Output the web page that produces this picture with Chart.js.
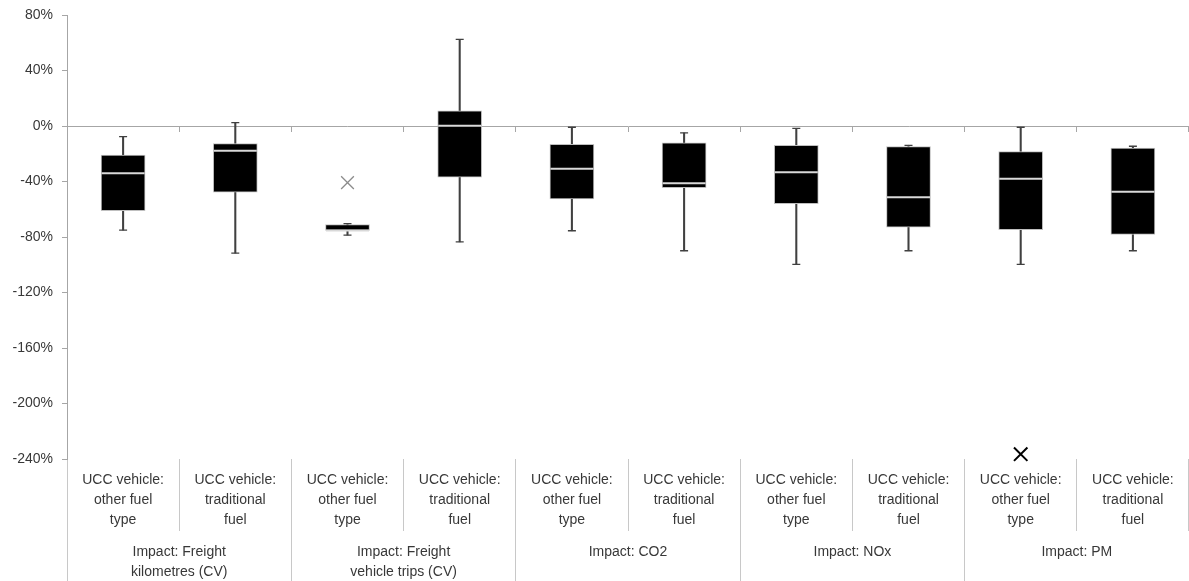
<!DOCTYPE html>
<html>
<head>
<meta charset="utf-8">
<script src="https://cdn.jsdelivr.net/npm/chart.js@4/dist/chart.umd.min.js"></script>
<style>
  html, body { margin: 0; padding: 0; background: #ffffff; }
  #wrap { width: 1189px; height: 581px; position: relative; }
</style>
</head>
<body>
<div id="wrap"><canvas id="c"></canvas></div>
<script>
// ---- data (values in %) ----
const categories = [
  ['UCC vehicle:', 'other fuel', 'type'], ['UCC vehicle:', 'traditional', 'fuel'],
  ['UCC vehicle:', 'other fuel', 'type'], ['UCC vehicle:', 'traditional', 'fuel'],
  ['UCC vehicle:', 'other fuel', 'type'], ['UCC vehicle:', 'traditional', 'fuel'],
  ['UCC vehicle:', 'other fuel', 'type'], ['UCC vehicle:', 'traditional', 'fuel'],
  ['UCC vehicle:', 'other fuel', 'type'], ['UCC vehicle:', 'traditional', 'fuel']
];
const groups = [
  ['Impact: Freight', 'kilometres (CV)'],
  ['Impact: Freight', 'vehicle trips (CV)'],
  'Impact: CO2',
  'Impact: NOx',
  'Impact: PM'
];
const whiskerMax = [-7.7, 2.4, -70.3, 62.4, -0.9, -5.0, -1.7, -13.9, -0.9, -14.6];
const q3         = [-21.0, -12.7, -71.0, 11.0, -13.2, -12.2, -13.9, -14.9, -18.5, -16.0];
const median     = [-34.0, -17.8, -75.3, 0.2, -30.9, -41.2, -33.3, -51.3, -38.1, -47.3];
const q1         = [-61.0, -47.7, -75.3, -36.9, -52.5, -44.4, -55.9, -72.9, -74.8, -78.2];
const whiskerMin = [-75.0, -91.6, -78.6, -83.5, -75.5, -89.9, -99.8, -89.9, -99.8, -89.9];
const extraPoints = [null, null, -40.8, null, null, null, null, null, -236.5, null];
const yMin = -240, yMax = 80, yStep = 40;

// ---- chart ----
const TEXT = '#383838';
const FONT = "'Liberation Sans', Arial, sans-serif";
const noPad = s => { s.paddingLeft = 0; s.paddingRight = 0; s.paddingTop = 0; s.paddingBottom = 0; };

new Chart(document.getElementById('c'), {
  type: 'bar',
  data: {
    labels: categories,
    datasets: [
      {
        type: 'line', label: 'points', data: extraPoints, showLine: false,
        pointStyle: 'crossRot',
        pointRadius: extraPoints.map((v, i) => i === 8 ? 9.5 : 9),
        pointBorderWidth: extraPoints.map((v, i) => i === 8 ? 2 : 1.3),
        pointBorderColor: extraPoints.map((v, i) => i === 8 ? '#000000' : '#8c8c8c'),
        pointBackgroundColor: 'transparent', order: 0, clip: false
      },
      {
        type: 'line', label: 'median', data: median, showLine: false,
        pointStyle: 'line', pointRadius: 21.5, pointBorderWidth: 2,
        pointBorderColor: '#d9d9d9', order: 1
      },
      {
        type: 'line', label: 'max', data: whiskerMax, showLine: false,
        pointStyle: 'line', pointRadius: 4, pointBorderWidth: 1.3,
        pointBorderColor: '#404040', order: 1
      },
      {
        type: 'line', label: 'min', data: whiskerMin, showLine: false,
        pointStyle: 'line', pointRadius: 4, pointBorderWidth: 1.3,
        pointBorderColor: '#404040', order: 1
      },
      {
        label: 'box', data: q1.map((v, i) => [v, q3[i]]),
        backgroundColor: '#000000', borderColor: '#bfbfbf', borderWidth: 1,
        borderSkipped: false, barThickness: 44, grouped: false, order: 2
      },
      {
        label: 'whisker', data: whiskerMin.map((v, i) => [v, whiskerMax[i]]),
        backgroundColor: '#404040', borderWidth: 0,
        barThickness: 1.4, grouped: false, order: 3
      }
    ]
  },
  options: {
    responsive: true,
    maintainAspectRatio: false,
    animation: false,
    events: [],
    layout: { autoPadding: false, padding: { top: 15, right: -2, left: 0, bottom: 0 } },
    plugins: { legend: { display: false }, tooltip: { enabled: false } },
    scales: {
      y: {
        type: 'linear', min: yMin, max: yMax,
        ticks: {
          stepSize: yStep, padding: 9, color: TEXT,
          font: { family: FONT, size: 14 },
          callback: v => v + '%'
        },
        grid: { display: true, drawOnChartArea: false, drawTicks: true, tickLength: 5, color: '#a6a6a6' },
        border: { display: true, color: '#a6a6a6', width: 1 },
        afterFit: s => { s.width = 67; noPad(s); }
      },
      x: {
        type: 'category', position: 'bottom', offset: true,
        grid: { offset: true, drawOnChartArea: false, tickLength: 72, color: '#c8c8c8', lineWidth: 1 },
        border: { display: false },
        ticks: {
          autoSkip: false, maxRotation: 0, minRotation: 0, padding: -61,
          color: TEXT, font: { family: FONT, size: 14, lineHeight: '20px' }
        },
        afterFit: s => { s.height = 72; noPad(s); }
      },
      x2: {
        type: 'category', axis: 'x', position: 'bottom', offset: true, labels: groups,
        grid: { offset: true, drawOnChartArea: false, tickLength: 50, color: '#c8c8c8', lineWidth: 1 },
        border: { display: false },
        ticks: {
          autoSkip: false, maxRotation: 0, minRotation: 0, padding: -38.5,
          color: TEXT, font: { family: FONT, size: 14, lineHeight: '19.5px' }
        },
        afterFit: s => { s.height = 50; noPad(s); }
      },
      x3: {
        type: 'category', axis: 'x', position: { y: 0 }, offset: true, labels: categories,
        grid: { offset: true, drawOnChartArea: false, tickLength: 5, color: '#a6a6a6', lineWidth: 1 },
        border: { display: true, color: '#a6a6a6', width: 1 },
        ticks: { display: false },
        afterFit: noPad
      }
    }
  }
});
</script>
</body>
</html>
